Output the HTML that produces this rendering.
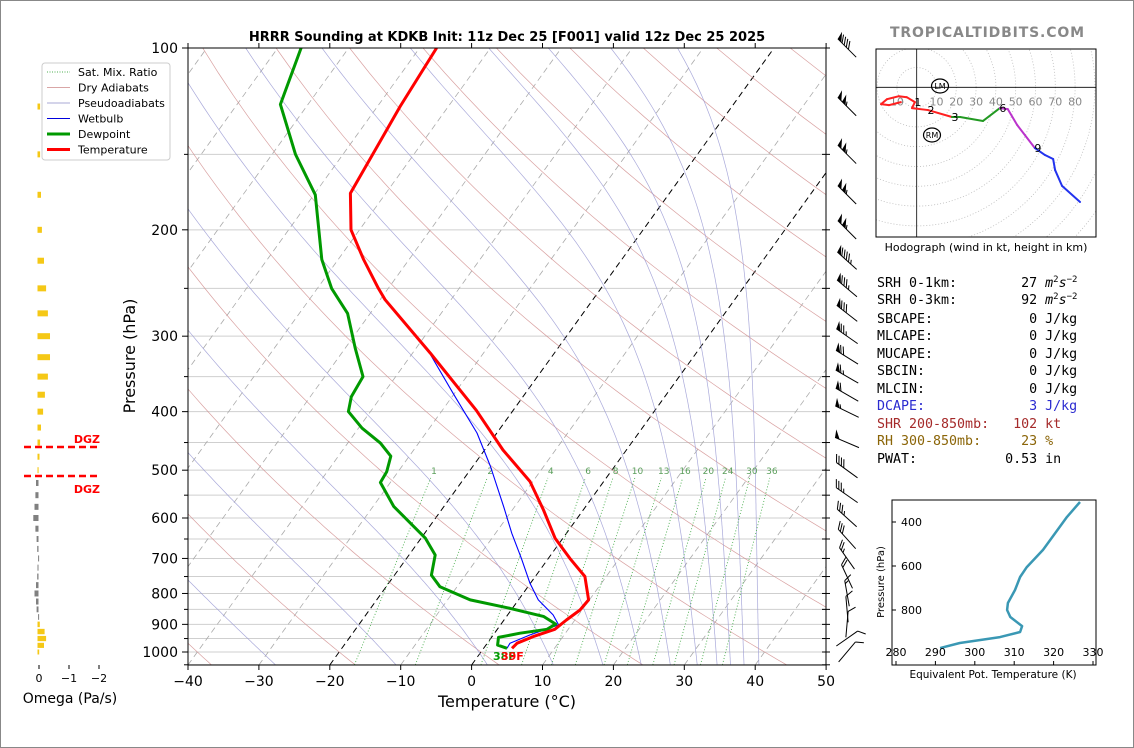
<!DOCTYPE html>
<html><head><meta charset="utf-8"><title>HRRR Sounding KDKB</title>
<style>
html,body{margin:0;padding:0;background:#fff;}
svg{display:block;font-family:"DejaVu Sans","Liberation Sans",sans-serif;}
</style></head>
<body>
<svg id="root" width="1134" height="748" viewBox="0 0 1134 748" xmlns="http://www.w3.org/2000/svg">
<rect x="0.5" y="0.5" width="1133" height="747" fill="#fff" stroke="#888"/>
<defs><clipPath id="plotclip"><rect x="188" y="48" width="638" height="617"/></clipPath>
<clipPath id="hodoclip"><rect x="876" y="49" width="220" height="188"/></clipPath>
<clipPath id="thetaclip"><rect x="892" y="500" width="204" height="165"/></clipPath></defs>
<text x="507" y="41" text-anchor="middle" font-size="13" font-weight="bold">HRRR Sounding at KDKB Init: 11z Dec 25 [F001] valid 12z Dec 25 2025</text>
<text x="987" y="37" text-anchor="middle" font-size="14" font-weight="bold" fill="#888" textLength="194">TROPICALTIDBITS.COM</text>
<text x="135" y="356" text-anchor="middle" font-size="16" transform="rotate(-90 135 356)">Pressure (hPa)</text>
<text x="507" y="707" text-anchor="middle" font-size="16">Temperature (°C)</text>
<text x="70" y="703" text-anchor="middle" font-size="14">Omega (Pa/s)</text>
<text x="986" y="251" text-anchor="middle" font-size="11">Hodograph (wind in kt, height in km)</text>
<g font-family="DejaVu Sans Mono, Liberation Mono, monospace" font-size="13.3">
<text x="877" y="287" xml:space="preserve">SRH 0-1km:        27 <tspan font-style="italic">m</tspan><tspan font-size="9" dy="-5">2</tspan><tspan font-style="italic" dy="5">s</tspan><tspan font-size="9" dy="-5">−2</tspan></text>
<text x="877" y="304" xml:space="preserve">SRH 0-3km:        92 <tspan font-style="italic">m</tspan><tspan font-size="9" dy="-5">2</tspan><tspan font-style="italic" dy="5">s</tspan><tspan font-size="9" dy="-5">−2</tspan></text>
<text x="877" y="323" xml:space="preserve">SBCAPE:            0 J/kg</text>
<text x="877" y="340" xml:space="preserve">MLCAPE:            0 J/kg</text>
<text x="877" y="358" xml:space="preserve">MUCAPE:            0 J/kg</text>
<text x="877" y="375" xml:space="preserve">SBCIN:             0 J/kg</text>
<text x="877" y="393" xml:space="preserve">MLCIN:             0 J/kg</text>
<text x="877" y="410" xml:space="preserve" fill="#2b2bd0">DCAPE:             3 J/kg</text>
<text x="877" y="428" xml:space="preserve" fill="#a52a2a">SHR 200-850mb:   102 kt</text>
<text x="877" y="445" xml:space="preserve" fill="#8b6508">RH 300-850mb:     23 %</text>
<text x="877" y="463" xml:space="preserve">PWAT:           0.53 in</text>
</g>
<g id="legend">
<rect x="42" y="63" width="128" height="97" rx="3" fill="#fff" stroke="#ccc"/>
<line x1="47" y1="72" x2="70" y2="72" stroke="#4caf50" stroke-dasharray="1,1.5"/>
<text x="78" y="76" font-size="11">Sat. Mix. Ratio</text>
<line x1="47" y1="87.5" x2="70" y2="87.5" stroke="#d9a6a6"/>
<text x="78" y="91.5" font-size="11">Dry Adiabats</text>
<line x1="47" y1="103" x2="70" y2="103" stroke="#aaaad6"/>
<text x="78" y="107" font-size="11">Pseudoadiabats</text>
<line x1="47" y1="118.5" x2="70" y2="118.5" stroke="#0000dd"/>
<text x="78" y="122.5" font-size="11">Wetbulb</text>
<line x1="47" y1="134" x2="70" y2="134" stroke="#009900" stroke-width="3"/>
<text x="78" y="138" font-size="11">Dewpoint</text>
<line x1="47" y1="149.5" x2="70" y2="149.5" stroke="#ff0000" stroke-width="3"/>
<text x="78" y="153.5" font-size="11">Temperature</text>
</g>
</svg>
<script>
// ---- data ----
const tempP = [100,125,174,200,224,250,261,320,398,463,522,582,648,700,750,820,852,885,917,943,967,986];
const tempC = [-67.6,-66.8,-65.0,-61.2,-56.4,-51.4,-49.3,-37.5,-25.2,-17.4,-10.4,-5.6,-1.1,3.05,7.0,9.9,9.7,8.8,8.1,5.8,4.2,4.0];
const dewP = [100,124,150,175,224,250,275,314,350,378,400,426,451,474,503,524,574,648,691,746,780,820,847,873,899,917,931,946,974,986];
const dewC = [-86.7,-83.9,-76.7,-69.8,-62.3,-58.0,-53.2,-48.6,-44.6,-44.2,-43.1,-39.5,-35.4,-32.6,-31.6,-31.4,-27.1,-19.4,-16.3,-14.8,-12.4,-6.8,-0.3,5.2,7.7,7.0,3.6,1.0,1.65,3.3];
const wbP = [100,125,174,200,224,250,261,320,373,434,493,574,636,700,769,820,868,902,937,967,986];
const wbC = [-67.6,-66.8,-65.0,-61.2,-56.4,-51.4,-49.3,-37.6,-30.2,-22.8,-17.5,-11.6,-7.7,-3.8,-0.1,2.8,6.4,8.2,5.2,3.2,3.3];
const omegaP = [125,150,175,200,225,250,275,300,325,350,375,400,425,450,475,500,525,550,575,600,625,650,675,700,725,750,775,800,825,850,875,900,925,950,975,1000];
const omegaV = [-0.07,-0.07,-0.1,-0.13,-0.2,-0.27,-0.33,-0.4,-0.4,-0.33,-0.23,-0.17,-0.1,-0.07,-0.05,-0.02,0.1,0.12,0.15,0.19,0.12,0.08,0.06,0.03,0.05,0.06,0.1,0.15,0.1,0.08,0.03,-0.06,-0.22,-0.27,-0.2,-0.04];
const barbP = [100,125,150,175,200,225,250,275,300,325,350,375,400,450,500,550,600,650,700,750,800,850,900,950,1000];
const barbSpd = [90,105,105,105,105,95,85,80,75,70,65,60,55,50,40,35,35,30,25,20,15,10,10,10,10];
const barbDir = [315,315,315,315,315,312,310,308,305,302,300,300,296,293,306,305,312,318,325,335,350,355,5,55,40];
const thetaP = [309,377,527,605,650,709,768,800,832,873,900,923,950,973];
const thetaK = [326.7,323.4,317.3,313.2,311.5,310.2,308.4,308.2,309,312,311.5,306.4,296.2,291.2];
const hodoU = [-8,-14,-18,-15,-9,-5,-0.9,-2.4,5.7,17.8,21.9,33.5,42,46,50.7,59.7,64.8,68.9,69.9,73.4,82.5];
const hodoV = [-7.5,-9,-8.5,-6,-4.5,-5,-7.5,-10.5,-11.5,-15,-15,-17,-10.5,-11,-19,-30.7,-34.2,-36.2,-41.8,-49.8,-57.9];
const hodoSeg = ['r','r','r','r','r','r','r','r','r','r','g','g','g','m','m','m','b','b','b','b','b'];
const xTicks = [-40,-30,-20,-10,0,10,20,30,40,50];
const pLabels = [100,200,300,400,500,600,700,800,900,1000];
const mixW = [1,2,4,6,8,10,13,16,20,24,30,36];
const thetaTicks = [280,290,300,310,320,330];
const thetaPTicks = [400,600,800];
const omegaTicks = [0,-1,-2];
const ringKt = [10,20,30,40,50,60,70,80];

// ---- axes ----
const NS='http://www.w3.org/2000/svg';
const root=document.getElementById('root');
function mk(tag,attrs,parent){const e=document.createElementNS(NS,tag);for(const k in attrs)e.setAttribute(k,attrs[k]);(parent||root).appendChild(e);return e;}
const yP=p=>48+604*Math.log10(p/100);
const xT=(T,p)=>188+(T+40)*7.09+0.72*(665-yP(p));
const xTy=(T,y)=>188+(T+40)*7.09+0.72*(665-y);

const bg=mk('g',{'clip-path':'url(#plotclip)'});


for(let p=100;p<=1050;p+=50){
  const l=mk('line',{x1:188,x2:826,y1:yP(p),y2:yP(p),stroke:'#cfcfcf','stroke-width':1},bg);
  
  
}
for(let T=-130;T<=50;T+=10){
  const hi=(T===0||T===-20);
  const l=mk('line',{x1:xTy(T,665),y1:665,x2:xTy(T,48),y2:48,stroke:hi?'#000':'#aaa','stroke-width':hi?1:0.8,'stroke-dasharray':'6,4'},bg);
  
  
}
for(let tc=-80;tc<=240;tc+=20){
  const th=tc+273.15;
  let d='';
  for(let p=1050;p>=100;p-=10){const T=th*Math.pow(p/1000,0.2857)-273.15;d+=(d?'L':'M')+xT(T,p).toFixed(1)+','+yP(p).toFixed(1);}
  const l=mk('path',{d:d,fill:'none',stroke:'#d08a8a','stroke-width':0.7,'stroke-opacity':0.8},bg);
  
  
}
function lapse(T,p){const Rd=287.04,cp=1005.7,Lv=2.501e6,eps=0.622;const es=6.112*Math.exp(17.67*(T-273.15)/(T-29.65));const rs=eps*es/(p-es);return (1/p)*(Rd*T+Lv*rs)/(cp+(Lv*Lv*rs*eps)/(Rd*T*T));}
const moistStart=[-27.7,-10.7,2.2,11.5,18.5,23.9,28,31.8,34.6,36.5,38.4,40.5];
moistStart.forEach(t0=>{
  let T=t0+273.15,p=1050,d='M'+xT(t0,p).toFixed(1)+','+yP(p).toFixed(1);
  while(p>100){const dp=-5;const k1=lapse(T,p);const k2=lapse(T+k1*dp,p+dp);T+=0.5*(k1+k2)*dp;p+=dp;d+='L'+xT(T-273.15,p).toFixed(1)+','+yP(p).toFixed(1);}
  const l=mk('path',{d:d,fill:'none',stroke:'#9a9ad4','stroke-width':0.7,'stroke-opacity':0.85},bg);
  
  
});
const tdFromW=(w,p)=>{const e=w*p/(622+w);const a=Math.log(e/6.112);return 243.5*a/(17.67-a);};
mixW.forEach(w=>{
  const l=mk('line',{x1:xT(tdFromW(w,1050),1050),y1:yP(1050),x2:xT(tdFromW(w,515),515),y2:yP(515),stroke:'#4caf50','stroke-width':0.9,'stroke-dasharray':'1,2'},bg);
  
  
  const t=mk('text',{x:xT(tdFromW(w,500),500),y:yP(500)+4,'font-size':9,fill:'#5a9e5a','text-anchor':'middle'},bg);
  t.textContent=w;
  
  
});
function prof(P,C,color,w,name){
  let d='';P.forEach((p,i)=>{d+=(i?'L':'M')+xT(C[i],p).toFixed(1)+','+yP(p).toFixed(1);});
  const l=mk('path',{d:d,fill:'none',stroke:color,'stroke-width':w,'stroke-linejoin':'round'},bg);
  
  
}
prof(wbP,wbC,'#0000ff',1.1,'wetbulb-profile');
prof(dewP,dewC,'#009900',3,'dewpoint-profile');
prof(tempP,tempC,'#ff0000',3,'temperature-profile');
const sfcTd=mk('text',{x:493,y:660,'font-size':11,'font-weight':'bold',fill:'#009900'});
sfcTd.textContent='38F';


const sfcT=mk('text',{x:501,y:660,'font-size':11,'font-weight':'bold',fill:'#ff0000'});
sfcT.textContent='39F';



const fr=mk('rect',{x:188,y:48,width:638,height:617,fill:'none',stroke:'#000','stroke-width':1});


xTicks.forEach(T=>{
  const x=188+(T+40)*7.09;
  const tk=mk('line',{x1:x,x2:x,y1:665,y2:670,stroke:'#000'});
  
  
  const tt=mk('line',{x1:x,x2:x,y1:43,y2:48,stroke:'#000'});
  
  
  const t=mk('text',{x:x,y:686,'font-size':14,'text-anchor':'middle'});
  t.textContent=(T<0?'−':'')+Math.abs(T);
  
  
});
for(let p=100;p<=1050;p+=50){
  const major=pLabels.includes(p);
  const tk=mk('line',{x1:major?182:184,x2:188,y1:yP(p),y2:yP(p),stroke:'#000'});
  
  
  const tr=mk('line',{x1:822,x2:830,y1:yP(p),y2:yP(p),stroke:'#000'});
  
  
}
pLabels.forEach(p=>{
  const t=mk('text',{x:178,y:yP(p)+5,'font-size':14,'text-anchor':'end'});
  t.textContent=p;
  
  
});

barbP.forEach((p,i)=>{
  const g=mk('g',{stroke:'#000','stroke-width':1,fill:'#000'});
  
  
  const d=barbDir[i]*Math.PI/180,vx=Math.sin(d),vy=-Math.cos(d),px=-vy,py=vx;
  const cx=847,cy=yP(p),L=26;
  const tx=cx+vx*L/2,ty=cy+vy*L/2,bx=cx-vx*L/2,by=cy-vy*L/2;
  mk('line',{x1:bx,y1:by,x2:tx,y2:ty},g);
  let s=Math.round(barbSpd[i]/5)*5,pos=0;
  while(s>=50){const ax=tx-vx*pos,ay=ty-vy*pos;
    mk('polygon',{points:`${ax},${ay} ${ax-vx*5},${ay-vy*5} ${ax+px*8+vx*2},${ay+py*8+vy*2}`,stroke:'none'},g);
    pos+=6;s-=50;}
  while(s>=10){const ax=tx-vx*pos,ay=ty-vy*pos;
    mk('line',{x1:ax,y1:ay,x2:ax+(px+vx*0.7)*7,y2:ay+(py+vy*0.7)*7},g);pos+=3;s-=10;}
  if(s>=5){if(pos===0)pos=3;const ax=tx-vx*pos,ay=ty-vy*pos;
    mk('line',{x1:ax,y1:ay,x2:ax+(px+vx*0.7)*3.5,y2:ay+(py+vy*0.7)*3.5},g);}
});

const xO=v=>39-v*30;
omegaP.forEach((p,i)=>{
  const v=omegaV[i],y=yP(p);
  const h=Math.min(6,(yP(p)-yP(p-25))*0.75);
  const x0=Math.min(xO(v),38.5),w=Math.max(Math.abs(xO(v)-38.5),1);
  const r=mk('rect',{x:v<0?37.5:x0,y:y-h/2,width:w,height:h,fill:v<0?'#f5c816':'#808080'});
  
  
});
omegaTicks.forEach(v=>{
  const tk=mk('line',{x1:xO(v),x2:xO(v),y1:665,y2:669,stroke:'#000'});
  
  
  const t=mk('text',{x:xO(v),y:682,'font-size':11,'text-anchor':'middle'});
  t.textContent=v===0?'0':'−'+Math.abs(v);
  
  
});
[[447,440],[476,490]].forEach((a,k)=>{
  const l=mk('line',{x1:24,x2:99,y1:a[0],y2:a[0],stroke:'#ff0000','stroke-width':2.5,'stroke-dasharray':'7,4'});
  
  
  const t=mk('text',{x:100,y:a[1]+3,'font-size':11,'font-weight':'bold',fill:'#ff0000','text-anchor':'end'});
  t.textContent='DGZ';
  
  
});

const ox=916.7,oy=87.3,sk=1.98;
const hg=mk('g',{'clip-path':'url(#hodoclip)'});


for(let r=10;r<=120;r+=10){
  const c=mk('circle',{cx:ox,cy:oy,r:r*sk,fill:'none',stroke:'#bbb','stroke-width':0.8,'stroke-dasharray':'1,2'},hg);
  
  
}
const ha=mk('line',{x1:876,x2:1096,y1:oy,y2:oy,stroke:'#000','stroke-width':0.8},hg);


const hv=mk('line',{x1:ox,x2:ox,y1:49,y2:237,stroke:'#000','stroke-width':0.8},hg);


ringKt.forEach(r=>{
  const t=mk('text',{x:ox+r*sk,y:oy+18,'font-size':11,fill:'#888','text-anchor':'middle'},hg);
  t.textContent=r;
  
  
});
const tl=mk('text',{x:ox-10*sk,y:oy+18,'font-size':11,fill:'#888','text-anchor':'middle'},hg);
tl.textContent='10';


const segCol={r:'#ff2020',g:'#229922',m:'#bb33cc',b:'#2233ee'};
for(let i=1;i<hodoU.length;i++){
  const l=mk('line',{x1:ox+hodoU[i-1]*sk,y1:oy-hodoV[i-1]*sk,x2:ox+hodoU[i]*sk,y2:oy-hodoV[i]*sk,stroke:segCol[hodoSeg[i]],'stroke-width':2,'stroke-linecap':'round'},hg);
  
  
}
[['1',6],['2',8],['3',9],['6',12],['9',15]].forEach(a=>{
  const i=a[1];
  const t=mk('text',{x:ox+hodoU[i]*sk+3,y:oy-hodoV[i]*sk+4,'font-size':11,'text-anchor':'middle'},hg);
  t.textContent=a[0];
  
  
});
[['LM',940,86],['RM',932,135]].forEach(a=>{
  const c=mk('ellipse',{cx:a[1],cy:a[2],rx:8.5,ry:7,fill:'none',stroke:'#000','stroke-width':1.2},hg);
  
  
  const t=mk('text',{x:a[1],y:a[2]+3,'font-size':8,'text-anchor':'middle'},hg);
  t.textContent=a[0];
  
  
});
const hb=mk('rect',{x:876,y:49,width:220,height:188,fill:'none',stroke:'#000'});



const xK=k=>896+(k-280)*3.94;
const yK=p=>522+(p-400)*0.22;
const tg=mk('g',{'clip-path':'url(#thetaclip)'});


let td='';thetaP.forEach((p,i)=>{td+=(i?'L':'M')+xK(thetaK[i]).toFixed(1)+','+yK(p).toFixed(1);});
const tp=mk('path',{d:td,fill:'none',stroke:'#3a98b4','stroke-width':2.5,'stroke-linejoin':'round'},tg);


const tbox=mk('rect',{x:892,y:500,width:204,height:165,fill:'none',stroke:'#000'});


thetaTicks.forEach(k=>{
  const tk=mk('line',{x1:xK(k),x2:xK(k),y1:665,y2:661,stroke:'#000'});
  
  
  const t=mk('text',{x:xK(k),y:656,'font-size':11,'text-anchor':'middle'});
  t.textContent=k;
  
  
});
thetaPTicks.forEach(p=>{
  const tk=mk('line',{x1:892,x2:896,y1:yK(p),y2:yK(p),stroke:'#000'});
  
  
  const t=mk('text',{x:901,y:yK(p)+4,'font-size':11});
  t.textContent=p;
  
  
});
const tyl=mk('text',{x:884,y:582,'font-size':10,'text-anchor':'middle',transform:'rotate(-90 884 582)'});
tyl.textContent='Pressure (hPa)';


const txl=mk('text',{x:993,y:678,'font-size':10.5,'text-anchor':'middle'});
txl.textContent='Equivalent Pot. Temperature (K)';


</script>
</body></html>
